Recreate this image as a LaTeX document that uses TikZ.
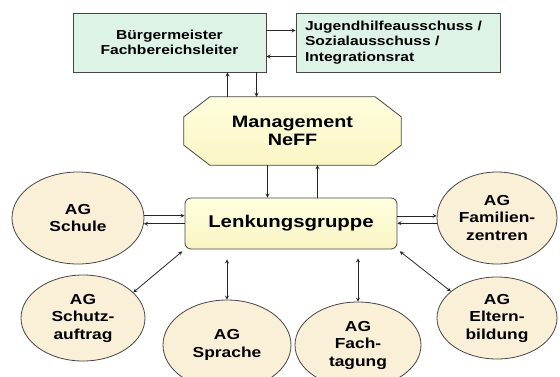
\documentclass[tikz,border=0pt]{standalone}
\usepackage{fontspec}
\setmainfont{Liberation Sans}[FakeStretch=1.2]
\usetikzlibrary{shapes.geometric, arrows, positioning, backgrounds}
\definecolor{boxgreen}{RGB}{221,243,229}
\definecolor{yellowtop}{RGB}{255,255,222}
\definecolor{yellowbottom}{RGB}{250,245,196}
\definecolor{agbeige}{RGB}{250,239,215}
\definecolor{linegray}{RGB}{70,70,70}
\tikzstyle{gremium} = [rectangle, draw=linegray, line width=0.8pt, fill=boxgreen, minimum height=59pt, font=\fontsize{13}{15.5}\selectfont\bfseries]
\tikzstyle{management} = [rectangle, minimum width=217pt, minimum height=68pt, align=center, font=\fontsize{16.5}{18}\selectfont\bfseries]
\tikzstyle{octagon} = [draw=linegray, line width=0.8pt, top color=yellowtop, bottom color=yellowbottom]
\tikzstyle{lenkung} = [rectangle, rounded corners=6pt, minimum width=212pt, minimum height=51pt, draw=linegray, line width=0.8pt, top color=yellowtop, bottom color=yellowbottom, font=\fontsize{17}{19}\selectfont\bfseries]
\tikzstyle{ag} = [ellipse, draw=linegray, line width=0.8pt, fill=agbeige, inner sep=0pt, align=center, font=\fontsize{14.5}{17.5}\selectfont\bfseries]
\tikzstyle{arrow} = [line width=0.8pt,->,>=stealth,draw=black!85]
\tikzstyle{darrow} = [line width=0.8pt,<->,>=stealth,draw=black!85]

\begin{document}
\begin{tikzpicture}[x=1pt, y=-1pt]
\useasboundingbox (0,0) rectangle (560,376);
\node (bgm) [gremium, minimum width=193pt, align=center] at (169.5,42.5) {Bürgermeister\\Fachbereichsleiter};
\node (ausschuss) [gremium, minimum width=204pt, text width=186pt, align=left] at (398,42.5) {Jugendhilfeausschuss /\\Sozialausschuss /\\Integrationsrat};
\node (mgmt) [management] at (292.5,131) {Management\\NeFF};
\begin{scope}[on background layer]
\path [octagon] ([xshift=26pt]mgmt.north west) -- ([xshift=-26pt]mgmt.north east) -- ([yshift=-20pt]mgmt.north east) -- ([yshift=20pt]mgmt.south east) -- ([xshift=-26pt]mgmt.south east) -- ([xshift=26pt]mgmt.south west) -- ([yshift=20pt]mgmt.south west) -- ([yshift=-20pt]mgmt.north west) -- cycle;
\end{scope}
\node (lenk) [lenkung] at (291,223.5) {Lenkungsgruppe};
\node (schule) [ag, minimum width=132pt, minimum height=92pt] at (78,218) {AG\\Schule};
\node (familien) [ag, minimum width=120pt, minimum height=92pt] at (497,218) {AG\\Familien-\\zentren};
\node (schutz) [ag, minimum width=124pt, minimum height=86pt] at (83,318) {AG\\Schutz-\\auftrag};
\node (sprache) [ag, minimum width=128pt, minimum height=90pt] at (227,345) {AG\\Sprache};
\node (fach) [ag, minimum width=126pt, minimum height=86pt] at (358,345) {AG\\Fach-\\tagung};
\node (eltern) [ag, minimum width=120pt, minimum height=82pt] at (497,318) {AG\\Eltern-\\bildung};
\draw [arrow] ([yshift=12pt]bgm.east) -- ([yshift=12pt]bgm.east -| ausschuss.west);
\draw [arrow] ([yshift=-14pt]ausschuss.west) -- ([yshift=-14pt]ausschuss.west -| bgm.east);
\draw [arrow] ([xshift=-65pt]mgmt.north) -- ([xshift=-65pt]mgmt.north |- bgm.south);
\draw [arrow] ([xshift=-36pt]mgmt.north |- bgm.south) -- ([xshift=-36pt]mgmt.north);
\draw [arrow] ([xshift=-25pt]mgmt.south) -- ([xshift=-25pt]mgmt.south |- lenk.north);
\draw [arrow] ([xshift=25pt]mgmt.south |- lenk.north) -- ([xshift=25pt]mgmt.south);
\draw [arrow] (schule.2) -- (schule.2 -| lenk.west);
\draw [arrow] (schule.-5 -| lenk.west) -- (schule.-5);
\draw [arrow] (familien.178 -| lenk.east) -- (familien.178);
\draw [arrow] (familien.185) -- (familien.185 -| lenk.east);
\draw [darrow, shorten >=3pt] (schutz.27) -- (lenk.south west);
\draw [darrow, shorten <=10pt] (sprache.north |- lenk.south) -- (sprache.north);
\draw [darrow, shorten <=9pt] (fach.north |- lenk.south) -- (fach.north);
\draw [darrow, shorten <=3pt] (lenk.south east) -- (eltern.150);
\end{tikzpicture}
\end{document}
